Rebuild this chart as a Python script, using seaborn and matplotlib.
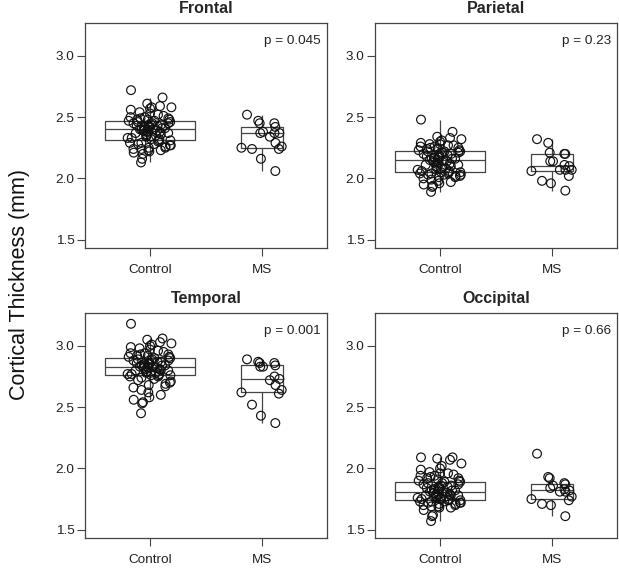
import numpy as np
import pandas as pd
import seaborn as sns
import matplotlib.pyplot as plt

sns.set_style("white")
plt.rcParams["font.family"] = ["Liberation Sans", "DejaVu Sans"]

groups = ["Control", "MS"]
regions = ["Frontal", "Parietal", "Temporal", "Occipital"]
p_labels = ["p = 0.045", "p = 0.23", "p = 0.001", "p = 0.66"]
y_ticks = [1.5, 2.0, 2.5, 3.0]

# cortical thickness (mm)
frontal_control = [2.72, 2.66, 2.61, 2.59, 2.58, 2.58, 2.57, 2.56, 2.54, 2.53,
                   2.52, 2.51, 2.50, 2.50, 2.49, 2.49, 2.48, 2.48, 2.48, 2.47,
                   2.47, 2.46, 2.46, 2.45, 2.45, 2.45, 2.44, 2.44, 2.43, 2.43,
                   2.43, 2.42, 2.42, 2.42, 2.41, 2.41, 2.41, 2.40, 2.40, 2.40,
                   2.40, 2.39, 2.39, 2.39, 2.38, 2.38, 2.38, 2.37, 2.37, 2.36,
                   2.36, 2.35, 2.35, 2.34, 2.34, 2.33, 2.33, 2.32, 2.32, 2.31,
                   2.31, 2.30, 2.29, 2.29, 2.28, 2.28, 2.27, 2.27, 2.26, 2.25,
                   2.25, 2.24, 2.24, 2.23, 2.23, 2.22, 2.21, 2.20, 2.16, 2.13]
frontal_ms = [2.52, 2.47, 2.45, 2.45, 2.42, 2.38, 2.37, 2.37, 2.37, 2.34,
              2.29, 2.26, 2.25, 2.24, 2.24, 2.16, 2.06]

parietal_control = [2.48, 2.38, 2.34, 2.33, 2.32, 2.31, 2.30, 2.29, 2.28, 2.28,
                    2.27, 2.27, 2.26, 2.26, 2.25, 2.25, 2.24, 2.24, 2.23, 2.23,
                    2.22, 2.22, 2.22, 2.21, 2.21, 2.20, 2.20, 2.20, 2.19, 2.19,
                    2.18, 2.18, 2.17, 2.17, 2.17, 2.16, 2.16, 2.16, 2.15, 2.15,
                    2.15, 2.14, 2.14, 2.13, 2.13, 2.12, 2.12, 2.11, 2.11, 2.10,
                    2.10, 2.09, 2.08, 2.08, 2.07, 2.07, 2.06, 2.06, 2.05, 2.05,
                    2.05, 2.04, 2.04, 2.04, 2.03, 2.03, 2.03, 2.02, 2.02, 2.01,
                    2.01, 2.00, 1.99, 1.98, 1.97, 1.96, 1.95, 1.94, 1.93, 1.89]
parietal_ms = [2.32, 2.29, 2.21, 2.20, 2.20, 2.14, 2.14, 2.11, 2.10, 2.07,
               2.07, 2.07, 2.06, 2.02, 1.98, 1.96, 1.90]

temporal_control = [3.18, 3.06, 3.05, 3.03, 3.02, 3.01, 3.00, 2.99, 2.98, 2.97,
                    2.96, 2.95, 2.94, 2.94, 2.93, 2.93, 2.92, 2.92, 2.91, 2.91,
                    2.90, 2.90, 2.89, 2.89, 2.88, 2.88, 2.88, 2.87, 2.87, 2.86,
                    2.86, 2.86, 2.85, 2.85, 2.85, 2.84, 2.84, 2.84, 2.83, 2.83,
                    2.83, 2.83, 2.82, 2.82, 2.82, 2.81, 2.81, 2.80, 2.80, 2.80,
                    2.79, 2.79, 2.78, 2.78, 2.78, 2.77, 2.77, 2.77, 2.76, 2.76,
                    2.76, 2.75, 2.75, 2.74, 2.73, 2.72, 2.71, 2.70, 2.69, 2.68,
                    2.67, 2.66, 2.64, 2.62, 2.60, 2.58, 2.56, 2.54, 2.53, 2.45]
temporal_ms = [2.89, 2.87, 2.86, 2.86, 2.84, 2.83, 2.83, 2.75, 2.73, 2.72,
               2.68, 2.64, 2.62, 2.61, 2.52, 2.43, 2.37]

occipital_control = [2.09, 2.09, 2.08, 2.07, 2.04, 2.02, 2.00, 1.99, 1.97, 1.96,
                     1.96, 1.95, 1.94, 1.94, 1.93, 1.92, 1.92, 1.91, 1.90, 1.90,
                     1.89, 1.89, 1.88, 1.88, 1.87, 1.87, 1.86, 1.86, 1.85, 1.85,
                     1.84, 1.84, 1.83, 1.83, 1.83, 1.82, 1.82, 1.82, 1.81, 1.81,
                     1.81, 1.80, 1.80, 1.80, 1.79, 1.79, 1.79, 1.78, 1.78, 1.78,
                     1.77, 1.77, 1.77, 1.76, 1.76, 1.76, 1.75, 1.75, 1.75, 1.74,
                     1.74, 1.74, 1.73, 1.73, 1.73, 1.72, 1.72, 1.72, 1.71, 1.71,
                     1.70, 1.70, 1.69, 1.69, 1.68, 1.68, 1.66, 1.62, 1.61, 1.57]
occipital_ms = [2.12, 1.93, 1.92, 1.88, 1.87, 1.86, 1.84, 1.83, 1.82, 1.81,
                1.81, 1.77, 1.75, 1.74, 1.71, 1.70, 1.61]

control_data = [frontal_control, parietal_control, temporal_control,
                occipital_control]
ms_data = [frontal_ms, parietal_ms, temporal_ms, occipital_ms]

LINE = "#444444"


def make_frame(control, ms):
    return pd.DataFrame({"group": ["Control"] * len(control) + ["MS"] * len(ms),
                         "thickness": control + ms})


def draw_panel(ax, df, title, p_label):
    # R style varwidth boxes: wide for controls, narrow for MS
    for grp, width in [("Control", 0.8), ("MS", 0.37)]:
        sns.boxplot(data=df[df["group"] == grp], x="group", y="thickness",
                    order=groups, width=width, fill=False, color=LINE,
                    linewidth=0.9, showcaps=False, showfliers=False, ax=ax)
    np.random.seed(7)
    sns.stripplot(data=df, x="group", y="thickness", order=groups,
                  jitter=0.2, size=6.3, color="black", ax=ax)
    for coll in ax.collections:
        coll.set_facecolor("none")
        coll.set_edgecolor("#111111")
        coll.set_linewidth(0.85)

    ax.set_xlim(-0.58, 1.58)
    ax.set_ylim(1.432, 3.268)
    ax.set_yticks(y_ticks)
    ax.set_yticklabels(["%.1f" % t for t in y_ticks])
    ax.set_xlabel("")
    ax.set_ylabel("")
    ax.set_title(title, fontweight="bold", fontsize=11.5, pad=7)
    ax.text(0.975, 0.92, p_label, transform=ax.transAxes, ha="right",
            va="center", fontsize=9.7, color="#222222")
    for side in ax.spines.values():
        side.set_visible(True)
        side.set_color(LINE)
        side.set_linewidth(0.9)
    ax.tick_params(axis="both", direction="out", length=5.5, width=0.8,
                   color=LINE, labelsize=9.7, labelcolor="#222222",
                   left=True, bottom=True)
    ax.tick_params(axis="x", pad=6)
    ax.tick_params(axis="y", pad=2)


fig = plt.figure(figsize=(6.19, 5.69), dpi=100)
W, H = 619, 569
boxes = [(85, 23), (375, 23), (85, 313), (375, 313)]

for i, region in enumerate(regions):
    left, top = boxes[i]
    ax = fig.add_axes([left / W, 1 - (top + 225) / H, 242 / W, 225 / H])
    df = make_frame(control_data[i], ms_data[i])
    draw_panel(ax, df, region, p_labels[i])

fig.text(0.032, 0.5, "Cortical Thickness (mm)", rotation=90, ha="center",
         va="center", fontsize=15.5, color="#111111")

fig.savefig("out.png", dpi=100)
